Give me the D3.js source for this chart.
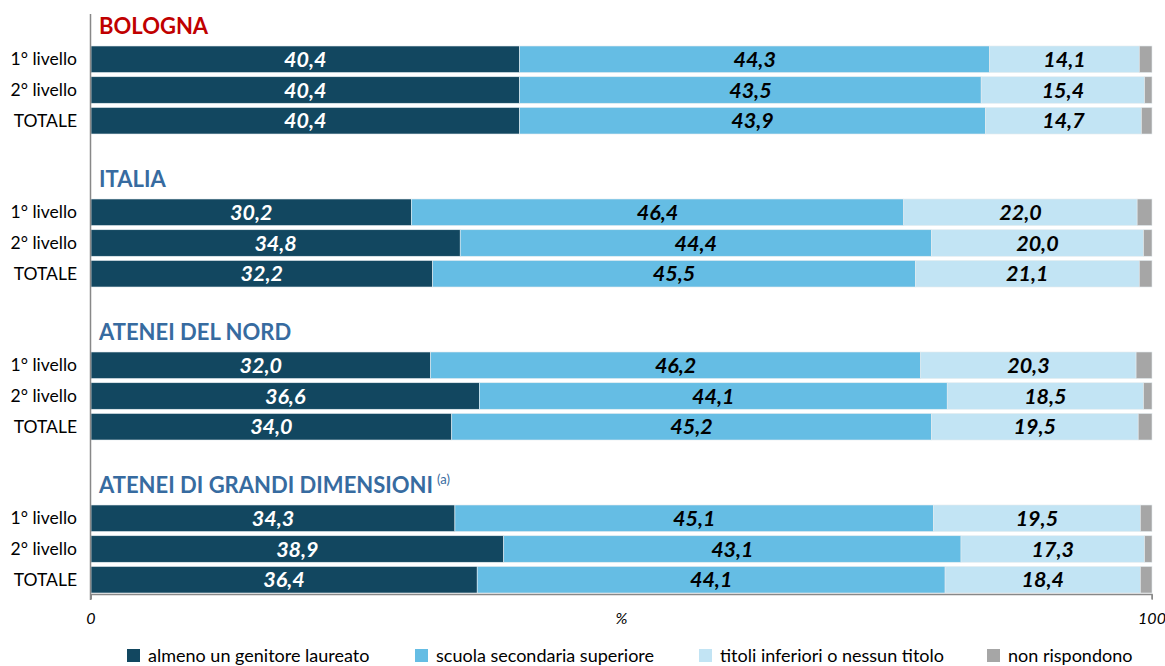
<!DOCTYPE html>
<html>
<head>
<meta charset="utf-8">
<script src="https://cdn.jsdelivr.net/npm/d3@7"></script>
<style>
body { margin: 0; background: #fff; }
text { font-family: Lato, "Open Sans", sans-serif; }
</style>
</head>
<body>
<script>
var groups = ["BOLOGNA", "ITALIA", "ATENEI DEL NORD", "ATENEI DI GRANDI DIMENSIONI"];
var rows = ["1° livello", "2° livello", "TOTALE"];
var series = ["almeno un genitore laureato", "scuola secondaria superiore", "titoli inferiori o nessun titolo", "non rispondono"];
var laureato = [40.4, 40.4, 40.4, 30.2, 34.8, 32.2, 32.0, 36.6, 34.0, 34.3, 38.9, 36.4];
var secondaria = [44.3, 43.5, 43.9, 46.4, 44.4, 45.5, 46.2, 44.1, 45.2, 45.1, 43.1, 44.1];
var inferiori = [14.1, 15.4, 14.7, 22.0, 20.0, 21.1, 20.3, 18.5, 19.5, 19.5, 17.3, 18.4];
var nonRisp = [1.2, 0.7, 1.0, 1.4, 0.8, 1.2, 1.5, 0.8, 1.3, 1.1, 0.7, 1.1];
var colors = ["#124760", "#65bde4", "#c2e4f4", "#a6a6a6"];

var W = 1165, H = 666;
var svg = d3.select("body").append("svg").attr("width", W).attr("height", H);

var x = d3.scaleLinear().domain([0, 100]).range([91, 1152]);

// each group: title band + 3 bars
var groupY = d3.scaleBand().domain(groups).range([12, 624]).paddingInner(0);
var barY = d3.scaleBand().domain(rows).range([34, 122]).paddingInner(0.137).paddingOuter(0);

var data = [];
groups.forEach(function(g, gi) {
  rows.forEach(function(r, ri) {
    var i = gi * 3 + ri;
    var vals = [laureato[i], secondaria[i], inferiori[i], nonRisp[i]];
    var acc = 0;
    vals.forEach(function(v, si) {
      data.push({g: g, r: r, s: si, v: v, x0: acc, x1: acc + v});
      acc += v;
    });
  });
});

var gG = svg.selectAll("g.grp").data(groups).enter().append("g")
  .attr("class", "grp")
  .attr("transform", function(d) { return "translate(0," + groupY(d) + ")"; });

gG.append("text")
  .attr("x", 99).attr("y", 22)
  .attr("font-size", 22).attr("font-weight", "bold")
  .attr("fill", function(d, i) { return i === 0 ? "#c00000" : "#376ba0"; })
  .text(function(d) { return d; })
  .each(function(d, i) {
    if (i === 3) {
      d3.select(this).append("tspan").attr("font-size", 13).attr("font-weight", "normal")
        .attr("dx", 4).attr("dy", -9).text("(a)");
    }
  });

gG.selectAll("text.cat").data(rows).enter().append("text")
  .attr("class", "cat")
  .attr("x", 77).attr("y", function(d) { return barY(d) + barY.bandwidth() / 2 + 6; })
  .attr("text-anchor", "end").attr("font-size", 17.5).attr("fill", "#000")
  .text(function(d) { return d; });

gG.selectAll("rect").data(function(g) { return data.filter(function(d) { return d.g === g; }); })
  .enter().append("rect")
  .attr("x", function(d) { return x(d.x0); })
  .attr("width", function(d) { return x(d.x1) - x(d.x0); })
  .attr("y", function(d) { return barY(d.r); })
  .attr("height", barY.bandwidth())
  .attr("fill", function(d) { return colors[d.s]; })
  .attr("stroke", "#e3ebef").attr("stroke-width", 0.6);

gG.selectAll("text.val").data(function(g) { return data.filter(function(d) { return d.g === g && d.s < 3; }); })
  .enter().append("text")
  .attr("class", "val")
  .attr("x", function(d) { return (x(d.x0) + x(d.x1)) / 2; })
  .attr("y", function(d) { return barY(d.r) + barY.bandwidth() / 2 + 7.5; })
  .attr("text-anchor", "middle").attr("font-size", 21.5)
  .attr("font-weight", "bold").attr("font-style", "italic")
  .attr("fill", function(d) { return d.s === 0 ? "#fff" : "#000"; })
  .text(function(d) { return d.v.toFixed(1).replace(".", ","); });

// axes
svg.append("line").attr("x1", 90.5).attr("x2", 90.5).attr("y1", 14).attr("y2", 600)
  .attr("stroke", "#888").attr("stroke-width", 1.5);
var xAxis = svg.append("g").attr("transform", "translate(0,594.5)")
  .call(d3.axisBottom(x).tickValues([0, 100]).tickSize(5).tickFormat(""));
xAxis.select(".domain").attr("stroke", "#888").attr("stroke-width", 1.5).attr("d", "M" + x(0) + ",0H" + x(100) + "V5");
xAxis.selectAll(".tick line").attr("stroke", "#888");

svg.selectAll("text.axl").data([[0, "0"], [50, "%"], [100, "100"]]).enter().append("text")
  .attr("class", "axl")
  .attr("x", function(d) { return x(d[0]); }).attr("y", 624)
  .attr("text-anchor", "middle").attr("font-size", 16).attr("font-style", "italic")
  .text(function(d) { return d[1]; });

// legend
var legX = [127, 415, 699, 987];
var leg = svg.selectAll("g.leg").data(series).enter().append("g").attr("class", "leg")
  .attr("transform", function(d, i) { return "translate(" + legX[i] + ",649)"; });
leg.append("rect").attr("width", 13).attr("height", 13).attr("fill", function(d, i) { return colors[i]; });
leg.append("text").attr("x", 21).attr("y", 13).attr("font-size", 18).text(function(d) { return d; });
</script>
</body>
</html>
